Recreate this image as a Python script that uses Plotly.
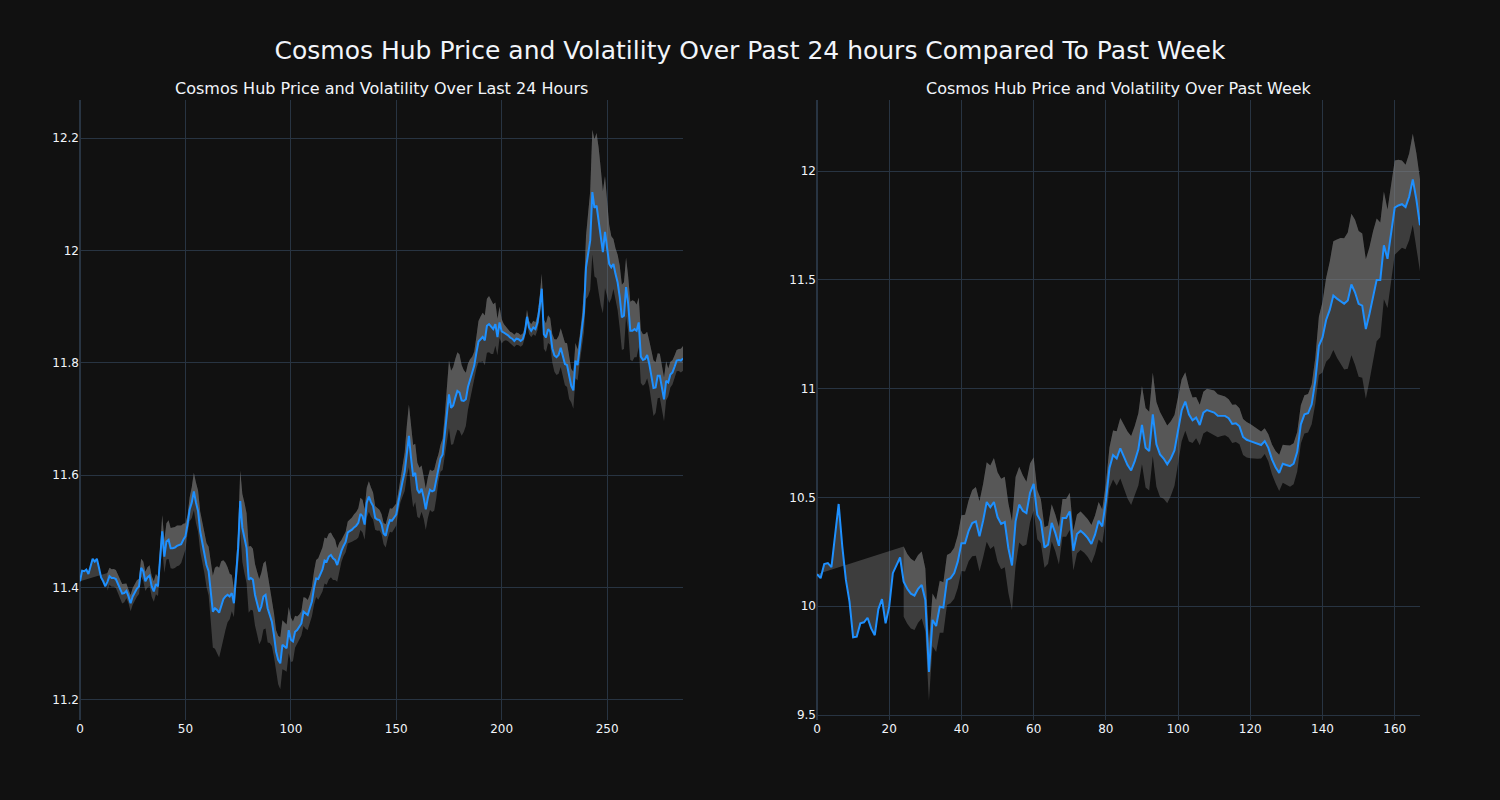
import numpy as np
import pandas as pd
import plotly.graph_objects as go
from plotly.subplots import make_subplots

# Price over the last 24 hours (5-minute steps)
price_24h = [
    11.411, 11.430, 11.429, 11.432, 11.424, 11.438, 11.451, 11.446, 11.451, 11.435,
    11.418, 11.411, 11.402, 11.410, 11.420, 11.417, 11.417, 11.415, 11.406, 11.398,
    11.389, 11.390, 11.394, 11.384, 11.372, 11.384, 11.392, 11.398, 11.402, 11.435,
    11.429, 11.411, 11.418, 11.421, 11.402, 11.393, 11.406, 11.402, 11.452, 11.500,
    11.455, 11.482, 11.485, 11.470, 11.470, 11.471, 11.474, 11.475, 11.477, 11.485,
    11.491, 11.512, 11.539, 11.551, 11.571, 11.551, 11.536, 11.500, 11.481, 11.461,
    11.440, 11.429, 11.393, 11.357, 11.363, 11.360, 11.355, 11.369, 11.379, 11.384,
    11.387, 11.384, 11.390, 11.372, 11.420, 11.470, 11.554, 11.506, 11.488, 11.470,
    11.414, 11.417, 11.414, 11.387, 11.372, 11.357, 11.366, 11.384, 11.387, 11.363,
    11.351, 11.339, 11.315, 11.286, 11.271, 11.265, 11.298, 11.295, 11.292, 11.324,
    11.307, 11.304, 11.321, 11.324, 11.330, 11.336, 11.357, 11.354, 11.351, 11.363,
    11.375, 11.399, 11.416, 11.415, 11.423, 11.432, 11.448, 11.446, 11.455, 11.458,
    11.452, 11.449, 11.440, 11.455, 11.465, 11.474, 11.481, 11.498, 11.500, 11.503,
    11.507, 11.510, 11.515, 11.531, 11.527, 11.512, 11.551, 11.562, 11.552, 11.545,
    11.524, 11.521, 11.520, 11.513, 11.496, 11.492, 11.509, 11.520, 11.519, 11.524,
    11.530, 11.552, 11.573, 11.589, 11.606, 11.643, 11.670, 11.631, 11.598, 11.604,
    11.574, 11.568, 11.576, 11.560, 11.539, 11.560, 11.574, 11.571, 11.573, 11.592,
    11.613, 11.630, 11.637, 11.670, 11.702, 11.744, 11.720, 11.724, 11.738, 11.750,
    11.747, 11.733, 11.732, 11.735, 11.757, 11.771, 11.783, 11.795, 11.818, 11.838,
    11.842, 11.846, 11.840, 11.866, 11.869, 11.864, 11.860, 11.869, 11.846, 11.872,
    11.856, 11.854, 11.852, 11.849, 11.845, 11.843, 11.839, 11.843, 11.842, 11.839,
    11.842, 11.854, 11.882, 11.863, 11.857, 11.863, 11.860, 11.872, 11.899, 11.932,
    11.851, 11.845, 11.860, 11.856, 11.826, 11.813, 11.810, 11.814, 11.827, 11.813,
    11.798, 11.796, 11.774, 11.759, 11.751, 11.804, 11.796, 11.824, 11.854, 11.890,
    11.970, 11.991, 12.018, 12.104, 12.076, 12.080, 12.054, 12.024, 11.997, 12.033,
    12.003, 11.976, 11.970, 11.976, 11.958, 11.943, 11.917, 11.881, 11.884, 11.935,
    11.905, 11.857, 11.857, 11.860, 11.857, 11.872, 11.811, 11.805, 11.807, 11.814,
    11.798, 11.777, 11.755, 11.756, 11.777, 11.777, 11.756, 11.735, 11.768, 11.765,
    11.779, 11.783, 11.793, 11.804, 11.805, 11.804, 11.808,
]

# Price over the past week (hourly steps)
price_week = [
    10.147, 10.129, 10.194, 10.198, 10.180, 10.321, 10.470, 10.275, 10.121, 10.021,
    9.857, 9.860, 9.921, 9.926, 9.947, 9.898, 9.867, 9.987, 10.033, 9.921,
    9.998, 10.152, 10.190, 10.224, 10.113, 10.080, 10.058, 10.049, 10.080, 10.098,
    10.029, 9.698, 9.937, 9.909, 9.998, 9.994, 10.121, 10.129, 10.152, 10.206,
    10.290, 10.290, 10.347, 10.382, 10.390, 10.321, 10.393, 10.479, 10.455, 10.479,
    10.410, 10.378, 10.387, 10.267, 10.187, 10.390, 10.467, 10.439, 10.428, 10.521,
    10.562, 10.421, 10.390, 10.270, 10.283, 10.383, 10.337, 10.278, 10.406, 10.406,
    10.436, 10.255, 10.332, 10.347, 10.332, 10.313, 10.286, 10.329, 10.393, 10.367,
    10.483, 10.636, 10.695, 10.679, 10.726, 10.686, 10.649, 10.624, 10.667, 10.721,
    10.833, 10.728, 10.713, 10.882, 10.744, 10.698, 10.679, 10.652, 10.679, 10.716,
    10.810, 10.901, 10.941, 10.882, 10.855, 10.867, 10.833, 10.890, 10.902, 10.896,
    10.890, 10.876, 10.876, 10.875, 10.864, 10.838, 10.841, 10.827, 10.778, 10.765,
    10.759, 10.752, 10.745, 10.741, 10.759, 10.728, 10.675, 10.639, 10.613, 10.655,
    10.649, 10.644, 10.655, 10.710, 10.836, 10.882, 10.887, 10.928, 11.036, 11.197,
    11.236, 11.316, 11.362, 11.428, 11.414, 11.403, 11.390, 11.405, 11.479, 11.443,
    11.390, 11.382, 11.274, 11.343, 11.428, 11.500, 11.500, 11.659, 11.597, 11.712,
    11.832, 11.842, 11.848, 11.835, 11.882, 11.962, 11.869, 11.751,
]

# Rolling window lengths used for the volatility band
window_24h = 14
window_week = 25

# Axis ranges
y_range_24h = [11.164, 12.268]
y_range_week = [9.477, 12.327]

main_title = "Cosmos Hub Price and Volatility Over Past 24 hours Compared To Past Week"
sub_titles = ["Cosmos Hub Price and Volatility Over Last 24 Hours",
              "Cosmos Hub Price and Volatility Over Past Week"]

LINE_COLOR = "#1E90FF"
BAND_COLOR = "rgba(128,128,128,0.4)"
FONT = "DejaVu Sans"

fig = make_subplots(rows=1, cols=2, subplot_titles=sub_titles, horizontal_spacing=0.1)


def add_series(values, window, col):
    s = pd.Series(values, dtype=float)
    vol = s.rolling(window).std()
    upper = s + vol
    lower = s - vol
    valid = vol.notna()
    idx = np.arange(len(s))
    # lower edge of the band (no fill)
    fig.add_trace(go.Scatter(x=idx[valid], y=lower[valid], mode="lines",
                             line=dict(width=0), showlegend=False,
                             hoverinfo="skip"), row=1, col=col)
    # full band: lower -> upper
    fig.add_trace(go.Scatter(x=idx[valid], y=upper[valid], mode="lines",
                             line=dict(width=0), fill="tonexty",
                             fillcolor=BAND_COLOR, showlegend=False,
                             hoverinfo="skip"), row=1, col=col)
    # price line, filled up to the upper edge (lighter upper half)
    fig.add_trace(go.Scatter(x=idx, y=s, mode="lines",
                             line=dict(color=LINE_COLOR, width=2),
                             fill="tonexty", fillcolor=BAND_COLOR,
                             showlegend=False), row=1, col=col)


add_series(price_24h, window_24h, 1)
add_series(price_week, window_week, 2)

fig.update_yaxes(range=y_range_24h, row=1, col=1)
fig.update_yaxes(range=y_range_week, row=1, col=2)

fig.update_layout(
    template="plotly_dark",
    width=1500, height=800,
    font=dict(family=FONT),
    title=dict(text=main_title, x=0.5, xanchor="center",
               y=1 - 50 / 800, yref="container", yanchor="middle",
               font=dict(size=25, family=FONT)),
    margin=dict(l=80, r=80, t=100, b=80),
)
fig.update_annotations(font=dict(size=16, family=FONT))

fig.write_html("out.html", config={"displayModeBar": False},
               post_script="document.body.style.margin='0';")
